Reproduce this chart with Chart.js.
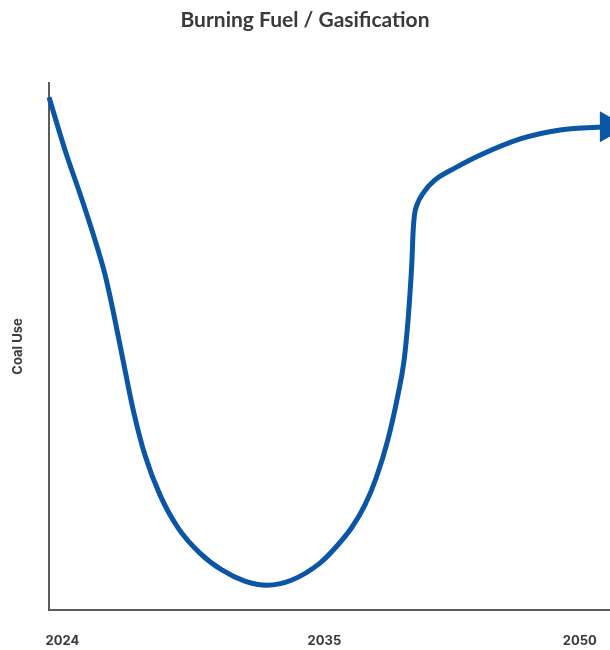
<!DOCTYPE html>
<html>
<head>
<meta charset="utf-8">
<title>Burning Fuel / Gasification</title>
<script src="https://cdn.jsdelivr.net/npm/chart.js@4.4.1/dist/chart.umd.min.js"></script>
<style>
  html, body { margin: 0; padding: 0; background: #ffffff; }
  #wrap { width: 610px; height: 650px; }
</style>
</head>
<body>
<div id="wrap"><canvas id="chart" width="610" height="650"></canvas></div>
<script>
// Timeline position (0 = start of 2024, 100 = end of the period) and relative coal use (0-100)
const timeline = [0, 2.85, 5.9, 8.2, 10.0, 11.4, 13.2, 15.0, 17.1, 19.8, 23.0, 26.9, 30.8, 34.9,
  38.9, 43.3, 48.3, 51.2, 54.0, 56.3, 58.3, 60.4, 62.2, 63.3, 64.0, 64.5, 64.7, 64.9, 65.15,
  65.6, 66.7, 68.8, 72.4, 76.8, 84.0, 91.1, 99.8];
const coalUse = [97.3, 87.3, 77.8, 70.2, 63.6, 56.9, 47.4, 38.0, 29.4, 21.8, 15.6, 10.8, 7.6, 5.5,
  4.7, 5.7, 8.9, 12.0, 15.7, 19.9, 25.0, 32.3, 40.8, 47.4, 55.0, 62.6, 66.4, 71.7, 75.0,
  76.9, 79.1, 81.6, 83.9, 86.3, 89.4, 91.1, 91.7];
const yearLabels = ['2024', '2035', '2050'];

const points = timeline.map((t, i) => ({ x: t, y: coalUse[i] }));

// where the three year labels sit along the timeline
const yearTickSpots = [2.4, 49.1, 94.6];

const blue = '#0b56a4';
const axisGrey = '#5c5c5c';
const textDark = '#3a3a3a';

new Chart(document.getElementById('chart'), {
  type: 'line',
  data: {
    datasets: [{
      data: points,
      borderColor: blue,
      backgroundColor: blue,
      borderWidth: 5,
      fill: false,
      cubicInterpolationMode: 'monotone',
      clip: false,
      // arrow head on the final point
      pointStyle: 'triangle',
      pointRotation: 90,
      pointRadius: ctx => ctx.dataIndex === points.length - 1 ? 18 : 0,
      pointBorderWidth: 0,
      pointBackgroundColor: blue,
      pointHoverRadius: ctx => ctx.dataIndex === points.length - 1 ? 18 : 0
    }]
  },
  options: {
    responsive: false,
    animation: false,
    devicePixelRatio: 1,
    layout: { autoPadding: false, padding: { left: 0, right: 0, top: 0, bottom: 1.2 } },
    plugins: {
      legend: { display: false },
      tooltip: { enabled: false },
      title: {
        display: true,
        text: 'Burning Fuel / Gasification',
        color: textDark,
        font: { family: 'Lato', size: 21, weight: '700', lineHeight: 1.2 },
        padding: { top: 7.4, bottom: 50.4 }
      }
    },
    scales: {
      x: {
        type: 'linear',
        min: 0,
        max: 100,
        grid: { display: false, drawTicks: false },
        border: { display: true, color: axisGrey, width: 2 },
        afterBuildTicks: axis => { axis.ticks = yearTickSpots.map(v => ({ value: v })); },
        // keep the axis band slim: labels sit below the line without widening the plot margins
        afterFit: axis => {
          axis.height = 38.8;
          axis.paddingLeft = 0;
          axis.paddingRight = 0;
        },
        ticks: {
          autoSkip: false,
          maxRotation: 0,
          padding: 23.2,
          color: textDark,
          font: { family: 'Inter', size: 13, weight: '700', lineHeight: 1.2 },
          callback: (value, index) => yearLabels[index]
        }
      },
      y: {
        type: 'linear',
        min: 0,
        max: 100,
        grid: { display: false, drawTicks: false },
        border: { display: true, color: axisGrey, width: 2 },
        ticks: { display: false },
        title: {
          display: true,
          text: 'Coal Use',
          color: textDark,
          font: { family: 'Inter', size: 13, weight: '700', lineHeight: 1.2 },
          padding: { top: 10, bottom: 23.4 }
        }
      }
    }
  }
});
</script>
</body>
</html>
